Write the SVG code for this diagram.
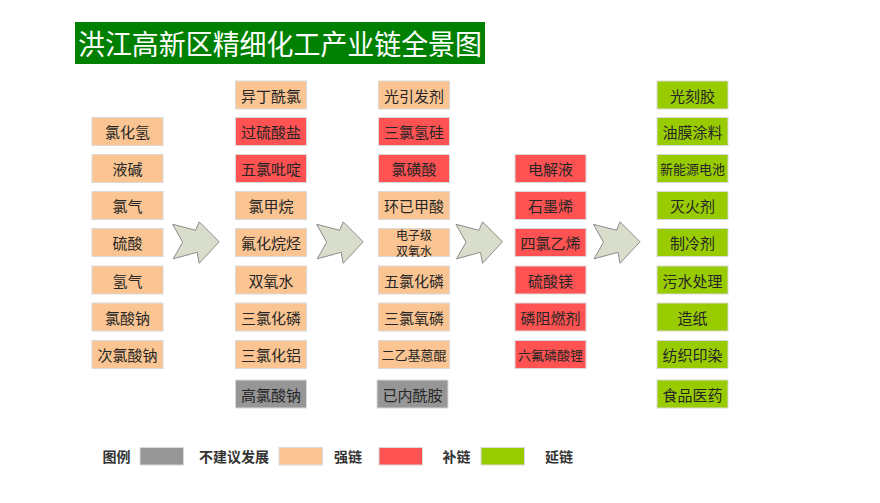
<svg xmlns="http://www.w3.org/2000/svg" xmlns:xlink="http://www.w3.org/1999/xlink" width="880" height="503" viewBox="0 0 880 503">
<style>
.b{stroke:#D9D9D9;stroke-width:1}
.p{fill:#FAC592}
.r{fill:#FF5252}
.g{fill:#99CC00}
.k{fill:#969696}
.t{font-family:"Noto Sans CJK SC","Liberation Serif",serif;font-size:15px;fill:#262626;text-anchor:middle;dominant-baseline:central}
.s{font-size:13px}
.xs{font-size:12px}
.lg{font-family:"Noto Sans CJK SC","Liberation Sans",sans-serif;font-size:14px;font-weight:bold;fill:#333;dominant-baseline:central}
.arr{fill:#D8DECB;stroke:#8C8C8C;stroke-width:1}
</style>
<defs>
<polygon id="chev" points="0,0 23,6 26.5,-2.5 46.5,17.5 26.5,39 24.5,28 0.5,34.5 10,18"/>
</defs>
<rect width="880" height="503" fill="#FFFFFF"/>
<g id="title">
<rect x="75" y="22" width="410" height="42" fill="#008000"/>
<text x="280" y="43" font-family="'Noto Sans CJK SC','Liberation Sans',sans-serif" font-size="28" fill="#FFFFFF" text-anchor="middle" dominant-baseline="central" textLength="404" lengthAdjust="spacingAndGlyphs">洪江高新区精细化工产业链全景图</text>
</g>
<g id="connectors">
<use xlink:href="#chev" class="arr" x="172.7" y="224.3"/>
<use xlink:href="#chev" class="arr" x="316.7" y="224.3"/>
<use xlink:href="#chev" class="arr" x="456" y="224.3"/>
<use xlink:href="#chev" class="arr" x="593.5" y="224.3"/>
</g>
<g id="col1">
<g id="n-hcl"><rect class="b p" x="92" y="117.5" width="71" height="28"/><text class="t" x="127.5" y="131.5">氯化氢</text></g>
<g id="n-yejian"><rect class="b p" x="92" y="154.5" width="71" height="28"/><text class="t" x="127.5" y="168.5">液碱</text></g>
<g id="n-cl2"><rect class="b p" x="92" y="191.5" width="71" height="28"/><text class="t" x="127.5" y="205.5">氯气</text></g>
<g id="n-h2so4"><rect class="b p" x="92" y="228.5" width="71" height="28"/><text class="t" x="127.5" y="242.5">硫酸</text></g>
<g id="n-h2"><rect class="b p" x="92" y="266" width="71" height="28"/><text class="t" x="127.5" y="280">氢气</text></g>
<g id="n-naclo3"><rect class="b p" x="92" y="303" width="71" height="28"/><text class="t" x="127.5" y="317">氯酸钠</text></g>
<g id="n-naclo"><rect class="b p" x="92" y="340.5" width="71" height="28"/><text class="t" x="127.5" y="354.5">次氯酸钠</text></g>
</g>
<g id="col2">
<g id="n-ydxl"><rect class="b p" x="235.5" y="81" width="71" height="28"/><text class="t" x="271" y="95">异丁酰氯</text></g>
<g id="n-glsy"><rect class="b r" x="235.5" y="117.5" width="71" height="28"/><text class="t" x="271" y="131.5">过硫酸盐</text></g>
<g id="n-wlbd"><rect class="b r" x="235.5" y="154.5" width="71" height="28"/><text class="t" x="271" y="168.5">五氯吡啶</text></g>
<g id="n-ljw"><rect class="b p" x="235.5" y="191.5" width="71" height="28"/><text class="t" x="271" y="205.5">氯甲烷</text></g>
<g id="n-fhwt"><rect class="b p" x="235.5" y="228.5" width="71" height="28"/><text class="t" x="271" y="242.5">氟化烷烃</text></g>
<g id="n-syhs"><rect class="b p" x="235.5" y="266" width="71" height="28"/><text class="t" x="271" y="280">双氧水</text></g>
<g id="n-slhl"><rect class="b p" x="235.5" y="303" width="71" height="28"/><text class="t" x="271" y="317">三氯化磷</text></g>
<g id="n-slhlv"><rect class="b p" x="235.5" y="340.5" width="71" height="28"/><text class="t" x="271" y="354.5">三氯化铝</text></g>
<g id="n-glsn"><rect class="b k" x="235.5" y="380" width="71" height="28"/><text class="t" x="271" y="394">高氯酸钠</text></g>
</g>
<g id="col3">
<g id="n-gyfj"><rect class="b p" x="378.5" y="81" width="71" height="28"/><text class="t" x="414" y="95">光引发剂</text></g>
<g id="n-slqg"><rect class="b r" x="378.5" y="117.5" width="71" height="28"/><text class="t" x="414" y="131.5">三氯氢硅</text></g>
<g id="n-lhs"><rect class="b r" x="378.5" y="154.5" width="71" height="28"/><text class="t" x="414" y="168.5">氯磺酸</text></g>
<g id="n-hyjs"><rect class="b p" x="378.5" y="191.5" width="71" height="28"/><text class="t" x="414" y="205.5">环已甲酸</text></g>
<g id="n-dzj"><rect class="b p" x="378.5" y="228.5" width="71" height="28"/><text class="t xs" x="414" y="234.5">电子级</text><text class="t xs" x="414" y="250.5">双氧水</text></g>
<g id="n-wlhl"><rect class="b p" x="378.5" y="266" width="71" height="28"/><text class="t" x="414" y="280">五氯化磷</text></g>
<g id="n-slyl"><rect class="b p" x="378.5" y="303" width="71" height="28"/><text class="t" x="414" y="317">三氯氧磷</text></g>
<g id="n-eyjek"><rect class="b p" x="378.5" y="340.5" width="71" height="28"/><text class="t s" x="414" y="354.5">二乙基蒽醌</text></g>
<g id="n-jnxa"><rect class="b k" x="377" y="380" width="71" height="28"/><text class="t" x="412.5" y="394">已内酰胺</text></g>
</g>
<g id="col4">
<g id="n-djy"><rect class="b r" x="515" y="154.5" width="71" height="28"/><text class="t" x="550.5" y="168.5">电解液</text></g>
<g id="n-smx"><rect class="b r" x="515" y="191.5" width="71" height="28"/><text class="t" x="550.5" y="205.5">石墨烯</text></g>
<g id="n-slyx"><rect class="b r" x="515" y="228.5" width="71" height="28"/><text class="t" x="550.5" y="242.5">四氯乙烯</text></g>
<g id="n-lsm"><rect class="b r" x="515" y="266" width="71" height="28"/><text class="t" x="550.5" y="280">硫酸镁</text></g>
<g id="n-lzrj"><rect class="b r" x="515" y="303" width="71" height="28"/><text class="t" x="550.5" y="317">磷阻燃剂</text></g>
<g id="n-lflsl"><rect class="b r" x="515" y="340.5" width="71" height="28"/><text class="t s" x="550.5" y="354.5">六氟磷酸锂</text></g>
</g>
<g id="col5">
<g id="n-gkj"><rect class="b g" x="657" y="81" width="71" height="28"/><text class="t" x="692.5" y="95">光刻胶</text></g>
<g id="n-ymtl"><rect class="b g" x="657" y="117.5" width="71" height="28"/><text class="t" x="692.5" y="131.5">油膜涂料</text></g>
<g id="n-xnydc"><rect class="b g" x="657" y="154.5" width="71" height="28"/><text class="t s" x="692.5" y="168.5">新能源电池</text></g>
<g id="n-mhj"><rect class="b g" x="657" y="191.5" width="71" height="28"/><text class="t" x="692.5" y="205.5">灭火剂</text></g>
<g id="n-zlj"><rect class="b g" x="657" y="228.5" width="71" height="28"/><text class="t" x="692.5" y="242.5">制冷剂</text></g>
<g id="n-wscl"><rect class="b g" x="657" y="266" width="71" height="28"/><text class="t" x="692.5" y="280">污水处理</text></g>
<g id="n-zz"><rect class="b g" x="657" y="303" width="71" height="28"/><text class="t" x="692.5" y="317">造纸</text></g>
<g id="n-fzyr"><rect class="b g" x="657" y="340.5" width="71" height="28"/><text class="t" x="692.5" y="354.5">纺织印染</text></g>
<g id="n-spyy"><rect class="b g" x="657" y="380" width="71" height="28"/><text class="t" x="692.5" y="394">食品医药</text></g>
</g>
<g id="legend">
<text class="lg" x="102.5" y="456">图例</text>
<rect class="b k" x="140" y="447.5" width="43.5" height="17.5"/>
<text class="lg" x="199" y="456">不建议发展</text>
<rect class="b p" x="279" y="447.5" width="43.5" height="17.5"/>
<text class="lg" x="334" y="456">强链</text>
<rect class="b r" x="379" y="447.5" width="43.5" height="17.5"/>
<text class="lg" x="442.5" y="456">补链</text>
<rect class="b g" x="481" y="447.5" width="43.5" height="17.5"/>
<text class="lg" x="545" y="456">延链</text>
</g>
</svg>
